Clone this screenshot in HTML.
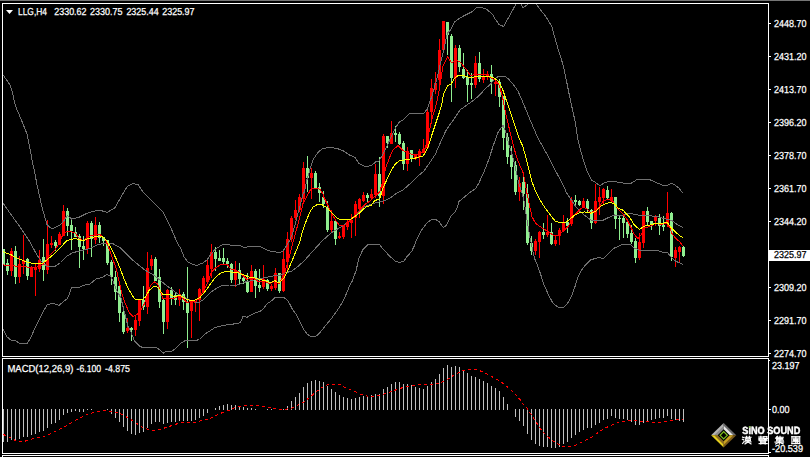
<!DOCTYPE html>
<html><head><meta charset="utf-8"><title>LLG,H4</title>
<style>html,body{margin:0;padding:0;background:#000;}body{width:810px;height:457px;overflow:hidden;font-family:"Liberation Sans",sans-serif;}svg{display:block;}text{font-family:"Liberation Sans",sans-serif;text-rendering:geometricPrecision;}</style>
</head><body>
<svg width="810" height="457" viewBox="0 0 810 457">
<rect x="0" y="0" width="810" height="457" fill="#000"/>
<defs><clipPath id="cm"><rect x="3" y="4" width="765" height="352"/></clipPath><clipPath id="cd"><rect x="3" y="359" width="765" height="94"/></clipPath></defs>
<g shape-rendering="crispEdges" fill="#fff">
<rect x="0" y="0" width="810" height="1" fill="#757575"/>
<rect x="2" y="3" width="767" height="1"/>
<rect x="2" y="3" width="1" height="354"/>
<rect x="768" y="3" width="1" height="354"/>
<rect x="2" y="356" width="767" height="1"/>
<rect x="2" y="358" width="767" height="1"/>
<rect x="2" y="358" width="1" height="96"/>
<rect x="768" y="358" width="1" height="96"/>
<rect x="2" y="453" width="767" height="1"/>
<rect x="2" y="455" width="767" height="1"/>
<rect x="2" y="455" width="1" height="2"/>
<rect x="768" y="455" width="1" height="2"/>
<rect x="769" y="23" width="2" height="1"/>
<rect x="769" y="56" width="2" height="1"/>
<rect x="769" y="89" width="2" height="1"/>
<rect x="769" y="122" width="2" height="1"/>
<rect x="769" y="155" width="2" height="1"/>
<rect x="769" y="188" width="2" height="1"/>
<rect x="769" y="221" width="2" height="1"/>
<rect x="769" y="254" width="2" height="1"/>
<rect x="769" y="287" width="2" height="1"/>
<rect x="769" y="320" width="2" height="1"/>
<rect x="769" y="353" width="2" height="1"/>
<rect x="769" y="360" width="1" height="1"/>
<rect x="769" y="409" width="2" height="1"/>
<rect x="769" y="452" width="2" height="1"/>
</g>
<g clip-path="url(#cm)" shape-rendering="crispEdges">
<rect x="3" y="249" width="1" height="16" fill="#90ee90"/>
<rect x="2" y="249" width="3" height="16" fill="#90ee90"/>
<rect x="7" y="259" width="1" height="16" fill="#90ee90"/>
<rect x="6" y="263" width="3" height="8" fill="#90ee90"/>
<rect x="11" y="248" width="1" height="28" fill="#ff0000"/>
<rect x="10" y="251" width="3" height="20" fill="#ff0000"/>
<rect x="15" y="246" width="1" height="38" fill="#90ee90"/>
<rect x="14" y="251" width="3" height="26" fill="#90ee90"/>
<rect x="19" y="256" width="1" height="27" fill="#ff0000"/>
<rect x="18" y="264" width="3" height="13" fill="#ff0000"/>
<rect x="23" y="235" width="1" height="39" fill="#ff0000"/>
<rect x="22" y="260" width="3" height="4" fill="#ff0000"/>
<rect x="27" y="258" width="1" height="22" fill="#90ee90"/>
<rect x="26" y="259" width="3" height="17" fill="#90ee90"/>
<rect x="31" y="266" width="1" height="11" fill="#ff0000"/>
<rect x="30" y="268" width="3" height="9" fill="#ff0000"/>
<rect x="35" y="263" width="1" height="33" fill="#ff0000"/>
<rect x="34" y="268" width="3" height="2" fill="#ff0000"/>
<rect x="39" y="250" width="1" height="22" fill="#ff0000"/>
<rect x="38" y="260" width="3" height="9" fill="#ff0000"/>
<rect x="43" y="239" width="1" height="42" fill="#90ee90"/>
<rect x="42" y="257" width="3" height="13" fill="#90ee90"/>
<rect x="47" y="220" width="1" height="54" fill="#ff0000"/>
<rect x="46" y="244" width="3" height="26" fill="#ff0000"/>
<rect x="51" y="236" width="1" height="12" fill="#ff0000"/>
<rect x="50" y="243" width="3" height="2" fill="#ff0000"/>
<rect x="55" y="240" width="1" height="11" fill="#90ee90"/>
<rect x="54" y="242" width="3" height="4" fill="#90ee90"/>
<rect x="59" y="232" width="1" height="13" fill="#ff0000"/>
<rect x="58" y="234" width="3" height="11" fill="#ff0000"/>
<rect x="63" y="205" width="1" height="31" fill="#ff0000"/>
<rect x="62" y="211" width="3" height="25" fill="#ff0000"/>
<rect x="67" y="208" width="1" height="28" fill="#90ee90"/>
<rect x="66" y="211" width="3" height="15" fill="#90ee90"/>
<rect x="71" y="220" width="1" height="30" fill="#90ee90"/>
<rect x="70" y="225" width="3" height="6" fill="#90ee90"/>
<rect x="75" y="227" width="1" height="10" fill="#90ee90"/>
<rect x="74" y="232" width="3" height="5" fill="#90ee90"/>
<rect x="79" y="234" width="1" height="34" fill="#90ee90"/>
<rect x="78" y="236" width="3" height="11" fill="#90ee90"/>
<rect x="83" y="236" width="1" height="24" fill="#90ee90"/>
<rect x="82" y="246" width="3" height="3" fill="#90ee90"/>
<rect x="87" y="221" width="1" height="33" fill="#ff0000"/>
<rect x="86" y="223" width="3" height="26" fill="#ff0000"/>
<rect x="91" y="221" width="1" height="36" fill="#90ee90"/>
<rect x="90" y="223" width="3" height="16" fill="#90ee90"/>
<rect x="95" y="217" width="1" height="27" fill="#ff0000"/>
<rect x="94" y="225" width="3" height="15" fill="#ff0000"/>
<rect x="99" y="222" width="1" height="21" fill="#90ee90"/>
<rect x="98" y="225" width="3" height="13" fill="#90ee90"/>
<rect x="103" y="237" width="1" height="9" fill="#90ee90"/>
<rect x="102" y="237" width="3" height="4" fill="#90ee90"/>
<rect x="107" y="240" width="1" height="25" fill="#90ee90"/>
<rect x="106" y="240" width="3" height="23" fill="#90ee90"/>
<rect x="111" y="260" width="1" height="25" fill="#90ee90"/>
<rect x="110" y="262" width="3" height="15" fill="#90ee90"/>
<rect x="115" y="271" width="1" height="29" fill="#90ee90"/>
<rect x="114" y="277" width="3" height="15" fill="#90ee90"/>
<rect x="119" y="285" width="1" height="37" fill="#90ee90"/>
<rect x="118" y="286" width="3" height="27" fill="#90ee90"/>
<rect x="123" y="311" width="1" height="23" fill="#90ee90"/>
<rect x="122" y="312" width="3" height="20" fill="#90ee90"/>
<rect x="127" y="318" width="1" height="15" fill="#ff0000"/>
<rect x="126" y="328" width="3" height="3" fill="#ff0000"/>
<rect x="131" y="327" width="1" height="14" fill="#90ee90"/>
<rect x="130" y="328" width="3" height="2" fill="#90ee90"/>
<rect x="135" y="316" width="1" height="20" fill="#ff0000"/>
<rect x="134" y="320" width="3" height="10" fill="#ff0000"/>
<rect x="139" y="300" width="1" height="26" fill="#ff0000"/>
<rect x="138" y="300" width="3" height="21" fill="#ff0000"/>
<rect x="143" y="286" width="1" height="24" fill="#90ee90"/>
<rect x="142" y="300" width="3" height="7" fill="#90ee90"/>
<rect x="147" y="252" width="1" height="62" fill="#ff0000"/>
<rect x="146" y="268" width="3" height="39" fill="#ff0000"/>
<rect x="151" y="255" width="1" height="15" fill="#ff0000"/>
<rect x="150" y="259" width="3" height="7" fill="#ff0000"/>
<rect x="155" y="257" width="1" height="24" fill="#90ee90"/>
<rect x="154" y="259" width="3" height="22" fill="#90ee90"/>
<rect x="159" y="269" width="1" height="39" fill="#90ee90"/>
<rect x="158" y="277" width="3" height="25" fill="#90ee90"/>
<rect x="163" y="298" width="1" height="36" fill="#90ee90"/>
<rect x="162" y="300" width="3" height="22" fill="#90ee90"/>
<rect x="167" y="289" width="1" height="40" fill="#ff0000"/>
<rect x="166" y="290" width="3" height="32" fill="#ff0000"/>
<rect x="171" y="287" width="1" height="18" fill="#90ee90"/>
<rect x="170" y="290" width="3" height="8" fill="#90ee90"/>
<rect x="175" y="292" width="1" height="13" fill="#90ee90"/>
<rect x="174" y="295" width="3" height="5" fill="#90ee90"/>
<rect x="179" y="289" width="1" height="17" fill="#ff0000"/>
<rect x="178" y="294" width="3" height="6" fill="#ff0000"/>
<rect x="183" y="292" width="1" height="18" fill="#90ee90"/>
<rect x="182" y="294" width="3" height="8" fill="#90ee90"/>
<rect x="187" y="267" width="1" height="81" fill="#90ee90"/>
<rect x="186" y="302" width="3" height="11" fill="#90ee90"/>
<rect x="191" y="300" width="1" height="38" fill="#ff0000"/>
<rect x="190" y="302" width="3" height="9" fill="#ff0000"/>
<rect x="195" y="301" width="1" height="11" fill="#ff0000"/>
<rect x="194" y="301" width="3" height="2" fill="#ff0000"/>
<rect x="199" y="288" width="1" height="33" fill="#ff0000"/>
<rect x="198" y="289" width="3" height="11" fill="#ff0000"/>
<rect x="203" y="276" width="1" height="17" fill="#ff0000"/>
<rect x="202" y="278" width="3" height="14" fill="#ff0000"/>
<rect x="207" y="260" width="1" height="24" fill="#ff0000"/>
<rect x="206" y="265" width="3" height="17" fill="#ff0000"/>
<rect x="211" y="244" width="1" height="34" fill="#ff0000"/>
<rect x="210" y="252" width="3" height="17" fill="#ff0000"/>
<rect x="215" y="247" width="1" height="24" fill="#90ee90"/>
<rect x="214" y="252" width="3" height="7" fill="#90ee90"/>
<rect x="219" y="250" width="1" height="11" fill="#90ee90"/>
<rect x="218" y="258" width="3" height="3" fill="#90ee90"/>
<rect x="223" y="248" width="1" height="16" fill="#90ee90"/>
<rect x="222" y="258" width="3" height="4" fill="#90ee90"/>
<rect x="227" y="258" width="1" height="10" fill="#90ee90"/>
<rect x="226" y="261" width="3" height="3" fill="#90ee90"/>
<rect x="231" y="263" width="1" height="20" fill="#90ee90"/>
<rect x="230" y="264" width="3" height="16" fill="#90ee90"/>
<rect x="235" y="261" width="1" height="26" fill="#ff0000"/>
<rect x="234" y="270" width="3" height="10" fill="#ff0000"/>
<rect x="239" y="263" width="1" height="21" fill="#90ee90"/>
<rect x="238" y="270" width="3" height="9" fill="#90ee90"/>
<rect x="243" y="275" width="1" height="9" fill="#90ee90"/>
<rect x="242" y="278" width="3" height="3" fill="#90ee90"/>
<rect x="247" y="273" width="1" height="20" fill="#90ee90"/>
<rect x="246" y="282" width="3" height="10" fill="#90ee90"/>
<rect x="251" y="265" width="1" height="27" fill="#ff0000"/>
<rect x="250" y="271" width="3" height="21" fill="#ff0000"/>
<rect x="255" y="269" width="1" height="29" fill="#90ee90"/>
<rect x="254" y="271" width="3" height="15" fill="#90ee90"/>
<rect x="259" y="269" width="1" height="23" fill="#90ee90"/>
<rect x="258" y="285" width="3" height="3" fill="#90ee90"/>
<rect x="263" y="265" width="1" height="24" fill="#ff0000"/>
<rect x="262" y="279" width="3" height="8" fill="#ff0000"/>
<rect x="267" y="279" width="1" height="12" fill="#90ee90"/>
<rect x="266" y="280" width="3" height="9" fill="#90ee90"/>
<rect x="271" y="284" width="1" height="7" fill="#ff0000"/>
<rect x="270" y="286" width="3" height="3" fill="#ff0000"/>
<rect x="275" y="268" width="1" height="22" fill="#ff0000"/>
<rect x="274" y="273" width="3" height="15" fill="#ff0000"/>
<rect x="279" y="273" width="1" height="20" fill="#90ee90"/>
<rect x="278" y="273" width="3" height="18" fill="#90ee90"/>
<rect x="283" y="251" width="1" height="41" fill="#ff0000"/>
<rect x="282" y="259" width="3" height="32" fill="#ff0000"/>
<rect x="287" y="232" width="1" height="38" fill="#ff0000"/>
<rect x="286" y="239" width="3" height="23" fill="#ff0000"/>
<rect x="291" y="216" width="1" height="26" fill="#ff0000"/>
<rect x="290" y="218" width="3" height="21" fill="#ff0000"/>
<rect x="295" y="200" width="1" height="20" fill="#ff0000"/>
<rect x="294" y="210" width="3" height="8" fill="#ff0000"/>
<rect x="299" y="194" width="1" height="18" fill="#ff0000"/>
<rect x="298" y="197" width="3" height="13" fill="#ff0000"/>
<rect x="303" y="162" width="1" height="40" fill="#ff0000"/>
<rect x="302" y="168" width="3" height="31" fill="#ff0000"/>
<rect x="307" y="156" width="1" height="36" fill="#90ee90"/>
<rect x="306" y="168" width="3" height="10" fill="#90ee90"/>
<rect x="311" y="168" width="1" height="31" fill="#ff0000"/>
<rect x="310" y="173" width="3" height="5" fill="#ff0000"/>
<rect x="315" y="171" width="1" height="18" fill="#90ee90"/>
<rect x="314" y="173" width="3" height="16" fill="#90ee90"/>
<rect x="319" y="183" width="1" height="19" fill="#90ee90"/>
<rect x="318" y="187" width="3" height="6" fill="#90ee90"/>
<rect x="323" y="191" width="1" height="17" fill="#90ee90"/>
<rect x="322" y="197" width="3" height="7" fill="#90ee90"/>
<rect x="327" y="201" width="1" height="31" fill="#90ee90"/>
<rect x="326" y="207" width="3" height="23" fill="#90ee90"/>
<rect x="331" y="210" width="1" height="23" fill="#ff0000"/>
<rect x="330" y="221" width="3" height="9" fill="#ff0000"/>
<rect x="335" y="221" width="1" height="24" fill="#90ee90"/>
<rect x="334" y="221" width="3" height="18" fill="#90ee90"/>
<rect x="339" y="232" width="1" height="7" fill="#ff0000"/>
<rect x="338" y="236" width="3" height="2" fill="#ff0000"/>
<rect x="343" y="225" width="1" height="14" fill="#ff0000"/>
<rect x="342" y="226" width="3" height="11" fill="#ff0000"/>
<rect x="347" y="220" width="1" height="10" fill="#ff0000"/>
<rect x="346" y="222" width="3" height="5" fill="#ff0000"/>
<rect x="351" y="214" width="1" height="24" fill="#ff0000"/>
<rect x="350" y="220" width="3" height="3" fill="#ff0000"/>
<rect x="355" y="201" width="1" height="35" fill="#ff0000"/>
<rect x="354" y="204" width="3" height="14" fill="#ff0000"/>
<rect x="359" y="198" width="1" height="20" fill="#ff0000"/>
<rect x="358" y="199" width="3" height="10" fill="#ff0000"/>
<rect x="363" y="192" width="1" height="10" fill="#ff0000"/>
<rect x="362" y="195" width="3" height="6" fill="#ff0000"/>
<rect x="367" y="193" width="1" height="9" fill="#90ee90"/>
<rect x="366" y="195" width="3" height="3" fill="#90ee90"/>
<rect x="371" y="189" width="1" height="10" fill="#ff0000"/>
<rect x="370" y="194" width="3" height="4" fill="#ff0000"/>
<rect x="375" y="164" width="1" height="34" fill="#ff0000"/>
<rect x="374" y="174" width="3" height="21" fill="#ff0000"/>
<rect x="379" y="157" width="1" height="50" fill="#90ee90"/>
<rect x="378" y="174" width="3" height="22" fill="#90ee90"/>
<rect x="383" y="134" width="1" height="70" fill="#ff0000"/>
<rect x="382" y="136" width="3" height="60" fill="#ff0000"/>
<rect x="387" y="136" width="1" height="12" fill="#90ee90"/>
<rect x="386" y="136" width="3" height="7" fill="#90ee90"/>
<rect x="391" y="121" width="1" height="23" fill="#ff0000"/>
<rect x="390" y="133" width="3" height="11" fill="#ff0000"/>
<rect x="395" y="126" width="1" height="16" fill="#90ee90"/>
<rect x="394" y="133" width="3" height="2" fill="#90ee90"/>
<rect x="399" y="132" width="1" height="13" fill="#90ee90"/>
<rect x="398" y="134" width="3" height="10" fill="#90ee90"/>
<rect x="403" y="141" width="1" height="29" fill="#90ee90"/>
<rect x="402" y="143" width="3" height="21" fill="#90ee90"/>
<rect x="407" y="147" width="1" height="24" fill="#ff0000"/>
<rect x="406" y="151" width="3" height="13" fill="#ff0000"/>
<rect x="411" y="150" width="1" height="12" fill="#90ee90"/>
<rect x="410" y="150" width="3" height="9" fill="#90ee90"/>
<rect x="415" y="154" width="1" height="6" fill="#ff0000"/>
<rect x="414" y="155" width="3" height="4" fill="#ff0000"/>
<rect x="419" y="149" width="1" height="17" fill="#ff0000"/>
<rect x="418" y="151" width="3" height="6" fill="#ff0000"/>
<rect x="423" y="139" width="1" height="14" fill="#ff0000"/>
<rect x="422" y="149" width="3" height="4" fill="#ff0000"/>
<rect x="427" y="109" width="1" height="39" fill="#ff0000"/>
<rect x="426" y="112" width="3" height="36" fill="#ff0000"/>
<rect x="431" y="79" width="1" height="41" fill="#ff0000"/>
<rect x="430" y="88" width="3" height="24" fill="#ff0000"/>
<rect x="435" y="72" width="1" height="22" fill="#ff0000"/>
<rect x="434" y="83" width="3" height="7" fill="#ff0000"/>
<rect x="439" y="39" width="1" height="48" fill="#ff0000"/>
<rect x="438" y="50" width="3" height="30" fill="#ff0000"/>
<rect x="443" y="21" width="1" height="29" fill="#ff0000"/>
<rect x="442" y="21" width="3" height="29" fill="#ff0000"/>
<rect x="447" y="22" width="1" height="33" fill="#90ee90"/>
<rect x="446" y="22" width="3" height="13" fill="#90ee90"/>
<rect x="451" y="34" width="1" height="68" fill="#90ee90"/>
<rect x="450" y="36" width="3" height="42" fill="#90ee90"/>
<rect x="455" y="45" width="1" height="43" fill="#ff0000"/>
<rect x="454" y="48" width="3" height="30" fill="#ff0000"/>
<rect x="459" y="45" width="1" height="27" fill="#90ee90"/>
<rect x="458" y="48" width="3" height="19" fill="#90ee90"/>
<rect x="463" y="53" width="1" height="26" fill="#90ee90"/>
<rect x="462" y="69" width="3" height="9" fill="#90ee90"/>
<rect x="467" y="70" width="1" height="32" fill="#90ee90"/>
<rect x="466" y="77" width="3" height="8" fill="#90ee90"/>
<rect x="471" y="73" width="1" height="26" fill="#90ee90"/>
<rect x="470" y="83" width="3" height="2" fill="#90ee90"/>
<rect x="475" y="56" width="1" height="32" fill="#ff0000"/>
<rect x="474" y="63" width="3" height="22" fill="#ff0000"/>
<rect x="479" y="52" width="1" height="30" fill="#90ee90"/>
<rect x="478" y="63" width="3" height="16" fill="#90ee90"/>
<rect x="483" y="69" width="1" height="14" fill="#ff0000"/>
<rect x="482" y="77" width="3" height="3" fill="#ff0000"/>
<rect x="487" y="71" width="1" height="9" fill="#ff0000"/>
<rect x="486" y="74" width="3" height="3" fill="#ff0000"/>
<rect x="491" y="65" width="1" height="29" fill="#90ee90"/>
<rect x="490" y="74" width="3" height="8" fill="#90ee90"/>
<rect x="495" y="79" width="1" height="17" fill="#ff0000"/>
<rect x="494" y="82" width="3" height="2" fill="#ff0000"/>
<rect x="499" y="79" width="1" height="28" fill="#90ee90"/>
<rect x="498" y="82" width="3" height="15" fill="#90ee90"/>
<rect x="503" y="96" width="1" height="54" fill="#90ee90"/>
<rect x="502" y="96" width="3" height="42" fill="#90ee90"/>
<rect x="507" y="133" width="1" height="31" fill="#90ee90"/>
<rect x="506" y="137" width="3" height="20" fill="#90ee90"/>
<rect x="511" y="146" width="1" height="33" fill="#90ee90"/>
<rect x="510" y="155" width="3" height="12" fill="#90ee90"/>
<rect x="515" y="161" width="1" height="34" fill="#90ee90"/>
<rect x="514" y="165" width="3" height="27" fill="#90ee90"/>
<rect x="519" y="177" width="1" height="24" fill="#ff0000"/>
<rect x="518" y="183" width="3" height="9" fill="#ff0000"/>
<rect x="523" y="177" width="1" height="33" fill="#90ee90"/>
<rect x="522" y="182" width="3" height="12" fill="#90ee90"/>
<rect x="527" y="184" width="1" height="61" fill="#90ee90"/>
<rect x="526" y="194" width="3" height="49" fill="#90ee90"/>
<rect x="531" y="236" width="1" height="19" fill="#90ee90"/>
<rect x="530" y="243" width="3" height="8" fill="#90ee90"/>
<rect x="535" y="239" width="1" height="16" fill="#ff0000"/>
<rect x="534" y="241" width="3" height="10" fill="#ff0000"/>
<rect x="539" y="231" width="1" height="27" fill="#ff0000"/>
<rect x="538" y="232" width="3" height="10" fill="#ff0000"/>
<rect x="543" y="223" width="1" height="16" fill="#90ee90"/>
<rect x="542" y="232" width="3" height="3" fill="#90ee90"/>
<rect x="547" y="215" width="1" height="22" fill="#ff0000"/>
<rect x="546" y="232" width="3" height="3" fill="#ff0000"/>
<rect x="551" y="223" width="1" height="22" fill="#90ee90"/>
<rect x="550" y="232" width="3" height="12" fill="#90ee90"/>
<rect x="555" y="235" width="1" height="11" fill="#ff0000"/>
<rect x="554" y="240" width="3" height="4" fill="#ff0000"/>
<rect x="559" y="228" width="1" height="17" fill="#ff0000"/>
<rect x="558" y="230" width="3" height="6" fill="#ff0000"/>
<rect x="563" y="215" width="1" height="17" fill="#ff0000"/>
<rect x="562" y="223" width="3" height="8" fill="#ff0000"/>
<rect x="567" y="218" width="1" height="15" fill="#90ee90"/>
<rect x="566" y="222" width="3" height="4" fill="#90ee90"/>
<rect x="571" y="197" width="1" height="29" fill="#ff0000"/>
<rect x="570" y="200" width="3" height="24" fill="#ff0000"/>
<rect x="575" y="195" width="1" height="11" fill="#90ee90"/>
<rect x="574" y="200" width="3" height="2" fill="#90ee90"/>
<rect x="579" y="200" width="1" height="6" fill="#90ee90"/>
<rect x="578" y="201" width="3" height="4" fill="#90ee90"/>
<rect x="583" y="198" width="1" height="10" fill="#ff0000"/>
<rect x="582" y="201" width="3" height="6" fill="#ff0000"/>
<rect x="587" y="199" width="1" height="13" fill="#90ee90"/>
<rect x="586" y="201" width="3" height="8" fill="#90ee90"/>
<rect x="591" y="209" width="1" height="20" fill="#90ee90"/>
<rect x="590" y="210" width="3" height="13" fill="#90ee90"/>
<rect x="595" y="184" width="1" height="40" fill="#ff0000"/>
<rect x="594" y="201" width="3" height="22" fill="#ff0000"/>
<rect x="599" y="187" width="1" height="28" fill="#ff0000"/>
<rect x="598" y="197" width="3" height="5" fill="#ff0000"/>
<rect x="603" y="188" width="1" height="16" fill="#ff0000"/>
<rect x="602" y="189" width="3" height="9" fill="#ff0000"/>
<rect x="607" y="186" width="1" height="13" fill="#90ee90"/>
<rect x="606" y="190" width="3" height="8" fill="#90ee90"/>
<rect x="611" y="189" width="1" height="13" fill="#ff0000"/>
<rect x="610" y="197" width="3" height="4" fill="#ff0000"/>
<rect x="615" y="197" width="1" height="32" fill="#90ee90"/>
<rect x="614" y="197" width="3" height="22" fill="#90ee90"/>
<rect x="619" y="215" width="1" height="25" fill="#90ee90"/>
<rect x="618" y="218" width="3" height="1" fill="#90ee90"/>
<rect x="623" y="216" width="1" height="22" fill="#90ee90"/>
<rect x="622" y="218" width="3" height="5" fill="#90ee90"/>
<rect x="627" y="221" width="1" height="17" fill="#90ee90"/>
<rect x="626" y="222" width="3" height="12" fill="#90ee90"/>
<rect x="631" y="225" width="1" height="19" fill="#90ee90"/>
<rect x="630" y="233" width="3" height="9" fill="#90ee90"/>
<rect x="635" y="238" width="1" height="25" fill="#90ee90"/>
<rect x="634" y="241" width="3" height="17" fill="#90ee90"/>
<rect x="639" y="233" width="1" height="27" fill="#ff0000"/>
<rect x="638" y="242" width="3" height="16" fill="#ff0000"/>
<rect x="643" y="211" width="1" height="37" fill="#ff0000"/>
<rect x="642" y="211" width="3" height="32" fill="#ff0000"/>
<rect x="647" y="207" width="1" height="19" fill="#90ee90"/>
<rect x="646" y="211" width="3" height="11" fill="#90ee90"/>
<rect x="651" y="221" width="1" height="9" fill="#90ee90"/>
<rect x="650" y="221" width="3" height="4" fill="#90ee90"/>
<rect x="655" y="215" width="1" height="11" fill="#ff0000"/>
<rect x="654" y="216" width="3" height="5" fill="#ff0000"/>
<rect x="659" y="214" width="1" height="21" fill="#90ee90"/>
<rect x="658" y="218" width="3" height="8" fill="#90ee90"/>
<rect x="663" y="216" width="1" height="15" fill="#90ee90"/>
<rect x="662" y="225" width="3" height="2" fill="#90ee90"/>
<rect x="667" y="192" width="1" height="35" fill="#ff0000"/>
<rect x="666" y="213" width="3" height="11" fill="#ff0000"/>
<rect x="671" y="212" width="1" height="49" fill="#90ee90"/>
<rect x="670" y="213" width="3" height="44" fill="#90ee90"/>
<rect x="675" y="247" width="1" height="20" fill="#ff0000"/>
<rect x="674" y="250" width="3" height="8" fill="#ff0000"/>
<rect x="679" y="246" width="1" height="16" fill="#ff0000"/>
<rect x="678" y="247" width="3" height="5" fill="#ff0000"/>
<rect x="683" y="246" width="1" height="11" fill="#90ee90"/>
<rect x="682" y="247" width="3" height="9" fill="#90ee90"/>
<polyline points="3.0,74.8 9.9,84.7 12.3,92.0 15.3,105.7 21.0,119.0 27.0,134.0 30.9,153.8 32.0,160.0 34.6,172.0 37.0,184.7 42.0,207.0 47.0,224.7 51.9,229.0 59.3,225.4 63.0,222.0 67.3,215.4 71.6,219.0 79.0,217.3 86.4,213.6 93.8,211.1 101.0,210.6 107.4,212.3 114.8,208.0 121.0,197.0 127.0,186.7 133.3,183.5 138.3,184.7 143.0,192.0 153.0,202.0 163.0,211.9 170.4,226.7 177.8,244.0 180.6,248.0 184.0,256.7 188.0,262.0 193.0,264.7 197.0,265.3 203.0,263.0 207.0,260.0 211.0,254.0 215.0,249.5 219.0,246.8 223.0,244.5 227.0,244.3 232.0,245.5 240.0,245.5 244.0,247.4 249.0,246.8 258.0,246.2 262.0,247.4 268.0,250.5 272.0,251.7 280.0,252.3 283.0,251.0 287.0,245.0 290.0,240.0 293.0,232.0 296.0,221.0 300.0,206.0 303.0,194.0 304.5,192.0 307.0,179.5 310.7,167.0 313.0,159.8 318.0,152.3 323.0,148.4 330.5,147.4 336.7,148.4 342.8,150.5 349.0,154.8 355.0,157.3 359.0,163.5 363.8,166.0 368.0,166.3 372.0,165.0 376.0,161.7 379.0,161.0 382.0,156.0 384.0,152.0 386.5,147.0 391.0,137.0 395.8,127.0 399.5,122.0 403.0,119.8 409.4,113.6 424.0,113.3 427.3,109.0 428.4,106.0 432.0,95.7 437.0,78.4 440.7,62.3 443.8,50.0 446.3,37.3 448.0,32.4 451.0,29.3 454.3,22.0 458.0,19.4 464.0,15.7 471.6,12.0 476.5,7.7 480.0,7.0 486.4,9.0 492.6,14.5 495.0,18.8 499.0,24.4 503.6,26.5 508.5,17.6 516.0,4.0 518.5,0.0 521.0,4.0 523.0,7.5 527.7,4.6 530.0,0.0 534.0,0.0 536.3,4.0 539.4,8.3 545.6,16.3 551.7,26.2 555.4,39.8 559.0,52.0 561.6,60.0 564.0,68.6 567.0,83.5 570.0,98.3 575.0,121.0 578.0,140.0 581.0,152.0 584.0,162.0 587.4,172.0 591.5,180.0 595.6,182.6 600.0,185.6 605.0,182.6 611.0,181.0 618.5,182.3 624.4,183.3 631.0,183.3 637.0,179.6 643.7,179.3 649.6,179.6 655.6,182.3 663.0,185.3 667.4,185.3 671.0,183.3 674.8,184.8 679.3,188.5 682.7,193.0" fill="none" stroke="#707070" stroke-width="1" />
<polyline points="3.0,203.0 9.9,213.0 19.8,226.7 29.6,241.5 37.0,255.0 43.0,263.5 48.0,266.5 55.6,266.0 60.5,262.5 66.7,256.3 72.8,252.6 80.0,251.0 88.9,248.9 97.4,244.8 104.8,243.2 113.5,244.0 120.9,248.3 127.0,254.5 132.0,259.5 139.4,265.6 145.6,270.6 151.7,273.7 156.7,277.4 164.0,283.5 170.0,288.0 176.4,293.0 181.4,296.0 186.3,298.0 190.0,300.0 195.0,302.0 200.0,302.0 204.7,298.5 211.0,292.0 217.0,288.0 223.0,285.0 229.4,285.0 236.0,285.5 241.7,283.5 246.7,281.5 250.0,281.0 256.0,279.5 262.0,278.3 268.0,277.0 274.0,275.8 280.0,275.2 286.0,272.7 292.0,271.0 298.0,266.5 305.0,260.0 312.0,252.0 318.0,245.5 323.0,240.0 331.7,232.6 339.0,228.0 345.0,224.5 351.5,219.6 357.6,212.8 363.8,207.0 367.4,205.5 374.8,203.0 384.7,200.5 391.0,197.4 397.0,193.0 403.0,190.0 410.6,183.3 418.0,176.0 424.0,171.0 430.4,161.7 435.3,154.3 439.0,145.7 446.4,129.6 452.6,121.0 460.0,110.0 465.4,106.0 471.6,101.8 479.0,95.7 486.4,87.6 490.0,84.7 495.0,78.5 499.0,76.0 504.8,76.0 508.5,79.0 513.5,84.7 517.8,90.9 522.0,100.3 525.8,109.4 529.5,118.5 538.0,138.3 542.5,146.0 549.0,158.0 556.7,173.0 564.0,186.7 566.0,192.0 570.0,198.0 575.0,205.6 580.0,211.6 586.0,216.4 591.0,220.0 602.0,220.7 608.4,217.6 614.6,215.0 620.7,215.8 629.4,213.3 638.0,215.0 646.7,215.0 654.0,216.4 658.5,216.9 664.7,218.7 672.0,220.6 677.0,224.3 682.8,227.3" fill="none" stroke="#707070" stroke-width="1" />
<polyline points="3.0,329.5 7.0,337.0 11.0,340.0 15.0,340.5 19.0,343.0 23.0,343.5 27.0,344.0 31.0,337.0 35.0,328.0 39.0,320.0 43.0,312.0 47.0,305.0 51.0,303.5 55.0,304.0 59.0,305.5 63.0,302.0 67.0,299.0 69.5,294.0 71.5,287.5 80.0,287.0 86.0,284.5 90.0,284.0 96.0,279.0 102.0,277.4 107.3,274.5 110.4,276.0 112.8,280.4 114.7,285.4 116.5,290.0 120.9,298.0 124.6,312.9 128.0,326.4 131.4,333.0 134.4,340.8 139.4,346.0 143.7,348.0 156.7,347.5 163.5,353.0 166.0,351.5 171.7,351.5 176.0,348.0 181.0,343.0 185.0,340.8 190.0,340.4 196.0,340.4 199.5,339.5 205.0,334.0 210.0,330.8 215.0,327.5 220.0,326.5 223.0,325.4 230.0,324.4 238.0,323.5 240.5,322.5 243.0,316.4 247.0,317.3 251.0,315.0 255.0,313.0 260.0,311.5 263.7,308.4 267.4,303.5 272.3,300.4 275.4,297.3 283.5,297.3 287.8,300.4 292.0,308.4 297.0,315.8 300.7,323.0 304.4,330.6 307.5,334.3 310.6,336.3 313.0,337.0 316.0,336.3 320.5,331.9 325.4,325.7 331.6,318.3 337.8,309.6 342.7,302.0 346.4,293.6 350.0,285.0 352.3,281.0 356.0,270.7 359.0,258.3 362.8,249.7 367.8,244.8 379.5,244.4 382.0,247.8 389.4,255.9 395.6,261.4 399.9,262.4 403.6,261.4 406.7,257.0 411.6,251.5 414.3,246.0 416.5,239.8 421.6,230.0 426.7,223.3 430.4,220.2 434.7,219.0 439.0,221.5 443.3,227.7 446.4,225.2 450.7,216.5 455.0,212.0 457.5,206.7 459.0,201.4 462.0,199.0 469.5,192.7 475.7,188.4 479.4,182.0 484.3,171.0 488.6,160.0 493.3,145.5 498.0,132.5 503.0,125.3 505.4,131.0 508.5,143.0 511.6,153.0 514.7,164.5 518.4,181.8 522.7,195.0 524.6,204.3 527.0,220.4 529.5,235.2 532.0,247.0 534.4,258.0 537.3,265.0 540.4,273.6 544.0,284.8 548.4,294.6 552.7,302.7 555.8,305.7 559.5,307.6 563.2,307.6 567.5,303.3 571.2,297.0 575.0,286.6 578.0,276.7 581.0,271.0 585.0,265.4 591.0,259.7 598.5,257.6 603.5,258.4 608.4,253.5 613.3,248.5 622.0,244.6 630.6,244.6 634.3,248.0 640.5,250.5 657.3,250.6 662.0,252.0 667.8,252.7 670.9,257.0 675.8,261.3 682.8,264.4" fill="none" stroke="#707070" stroke-width="1" />
<polyline points="3.0,264.7 7.0,266.0 11.0,264.7 15.0,266.0 23.0,266.0 27.0,267.0 35.0,268.0 43.0,264.7 47.0,258.5 51.0,254.0 55.0,250.0 59.0,243.0 63.0,234.5 67.0,231.5 71.0,231.5 75.0,233.0 79.0,238.0 83.0,241.0 87.0,237.0 91.0,235.8 95.0,234.6 99.0,234.0 102.0,236.0 105.4,239.7 108.5,247.0 112.0,257.0 116.0,268.0 119.0,281.0 122.0,294.3 125.8,304.8 129.5,312.9 133.0,316.6 137.0,314.7 140.6,310.4 144.3,304.0 148.0,292.0 150.5,285.4 154.0,281.8 157.3,283.5 159.8,289.0 161.0,293.0 162.8,298.0 169.0,298.0 175.0,298.0 178.9,295.6 183.7,299.0 187.4,302.8 192.0,301.0 196.0,301.0 199.8,297.0 202.8,292.0 206.5,285.0 209.0,280.0 211.0,272.7 215.8,267.8 220.7,264.7 227.0,264.0 230.6,269.0 235.5,270.0 241.7,274.0 247.0,279.5 251.6,277.0 259.0,282.0 264.0,280.7 269.0,283.8 275.0,280.7 279.0,283.8 284.0,275.0 288.0,262.0 292.0,246.0 296.5,229.5 301.0,212.0 303.0,203.6 307.0,196.0 310.7,189.4 315.7,188.0 320.0,189.4 323.0,194.0 324.0,197.4 328.0,205.4 331.7,213.5 335.4,220.0 339.0,225.0 344.0,225.8 349.0,221.5 354.0,216.5 359.0,211.0 362.6,206.7 366.0,203.6 370.0,201.0 372.0,198.8 379.8,192.0 382.8,181.0 386.0,167.0 389.6,157.4 393.0,149.8 398.0,145.7 402.6,150.3 409.4,153.4 414.0,155.0 420.5,153.5 425.4,148.0 429.0,132.0 432.8,116.0 436.4,104.0 439.5,88.3 443.0,66.0 447.5,56.8 451.8,63.0 455.5,59.3 460.5,62.3 465.4,68.5 471.0,76.0 475.3,73.5 480.0,74.7 486.4,74.7 490.0,77.3 495.5,80.4 499.0,84.7 502.3,95.8 506.0,114.8 509.8,130.9 513.5,145.8 516.5,157.0 520.0,165.8 523.0,172.5 525.0,181.8 527.0,193.5 529.5,205.6 532.0,216.7 535.7,223.5 541.9,227.8 548.0,231.5 553.0,235.2 557.9,235.2 562.8,231.5 569.0,225.3 574.0,215.5 578.9,210.5 582.6,207.4 586.0,208.4 591.0,212.7 597.3,209.0 603.5,201.0 608.4,199.0 612.0,199.8 617.0,207.8 622.0,212.7 627.0,219.5 631.9,229.4 634.3,234.3 638.0,238.7 641.7,234.3 643.7,228.6 651.0,226.0 654.8,223.6 662.0,224.3 666.5,223.0 669.6,227.3 672.0,233.5 675.8,238.5 679.5,241.5 682.8,245.9" fill="none" stroke="#ff0000" stroke-width="1" />
<polyline points="3.0,251.7 11.0,254.8 19.0,259.0 27.0,262.0 35.0,264.0 43.0,263.0 51.0,256.7 59.0,249.0 67.0,240.5 75.0,238.5 83.0,240.7 91.0,237.6 96.0,236.6 102.0,236.6 106.0,239.7 109.8,245.9 113.5,253.3 117.0,260.7 120.9,270.6 124.6,280.4 128.0,288.0 132.0,295.0 135.0,299.3 141.9,300.0 145.6,296.8 149.0,290.6 153.0,287.0 156.0,286.3 159.0,288.8 162.8,294.3 169.0,294.3 175.0,296.8 178.9,295.0 183.7,297.2 187.4,299.8 192.3,300.4 196.0,299.8 200.4,297.0 204.7,292.0 209.0,286.0 213.0,280.6 215.8,277.0 220.7,273.0 225.7,271.5 230.6,272.0 238.0,272.7 244.0,275.0 249.0,277.0 255.0,278.0 260.0,279.5 266.4,281.0 271.0,282.6 275.0,280.7 279.0,283.0 284.0,278.3 288.0,270.0 292.0,261.0 296.0,251.0 299.5,243.0 302.0,233.0 305.8,222.0 309.5,212.8 313.0,207.0 317.0,204.8 321.8,204.6 325.5,206.7 329.0,209.8 333.0,214.0 336.7,217.8 340.4,219.6 345.0,220.0 350.0,219.6 355.0,216.5 359.0,213.5 362.6,209.8 366.0,207.0 371.0,205.4 374.8,200.6 379.8,198.8 382.8,188.3 386.0,181.5 389.6,173.5 394.6,164.8 399.5,160.5 407.0,159.6 415.5,158.0 423.0,156.0 425.4,152.5 428.0,147.0 431.6,135.8 435.3,124.7 439.0,113.6 441.4,106.0 443.8,93.2 447.5,85.8 451.2,84.0 454.3,78.4 458.0,75.7 464.0,75.7 471.0,77.8 476.5,76.5 486.4,76.0 491.4,77.0 495.0,78.5 499.0,81.6 502.3,88.4 506.0,99.5 509.8,110.0 514.7,124.7 519.6,139.5 522.7,146.0 525.8,157.0 528.9,169.5 532.0,181.8 535.7,191.7 539.4,198.8 544.3,206.8 549.3,213.6 555.4,221.4 559.0,222.2 566.5,222.0 570.0,219.0 575.0,214.8 580.0,212.4 585.0,211.9 591.0,213.3 596.0,210.9 602.0,205.3 609.6,202.2 614.6,204.0 618.3,208.4 623.0,210.2 629.4,217.0 634.3,225.0 639.6,229.5 644.0,226.3 651.0,224.7 656.5,223.2 662.0,223.5 667.0,222.2 671.0,227.6 675.8,232.5 679.5,235.4 682.8,237.8" fill="none" stroke="#ffff00" stroke-width="1" />
</g>
<g clip-path="url(#cd)" shape-rendering="crispEdges">
<rect x="3" y="409" width="1" height="33" fill="#c0c0c0"/>
<rect x="7" y="409" width="1" height="33" fill="#c0c0c0"/>
<rect x="11" y="409" width="1" height="31" fill="#c0c0c0"/>
<rect x="15" y="409" width="1" height="31" fill="#c0c0c0"/>
<rect x="19" y="409" width="1" height="30" fill="#c0c0c0"/>
<rect x="23" y="409" width="1" height="28" fill="#c0c0c0"/>
<rect x="27" y="409" width="1" height="28" fill="#c0c0c0"/>
<rect x="31" y="409" width="1" height="26" fill="#c0c0c0"/>
<rect x="35" y="409" width="1" height="25" fill="#c0c0c0"/>
<rect x="39" y="409" width="1" height="23" fill="#c0c0c0"/>
<rect x="43" y="409" width="1" height="22" fill="#c0c0c0"/>
<rect x="47" y="409" width="1" height="19" fill="#c0c0c0"/>
<rect x="51" y="409" width="1" height="15" fill="#c0c0c0"/>
<rect x="55" y="409" width="1" height="14" fill="#c0c0c0"/>
<rect x="59" y="409" width="1" height="11" fill="#c0c0c0"/>
<rect x="63" y="409" width="1" height="6" fill="#c0c0c0"/>
<rect x="67" y="409" width="1" height="4" fill="#c0c0c0"/>
<rect x="71" y="409" width="1" height="3" fill="#c0c0c0"/>
<rect x="75" y="409" width="1" height="2" fill="#c0c0c0"/>
<rect x="79" y="409" width="1" height="3" fill="#c0c0c0"/>
<rect x="83" y="409" width="1" height="3" fill="#c0c0c0"/>
<rect x="87" y="409" width="1" height="1" fill="#c0c0c0"/>
<rect x="91" y="409" width="1" height="1" fill="#c0c0c0"/>
<rect x="107" y="409" width="1" height="1" fill="#c0c0c0"/>
<rect x="111" y="409" width="1" height="5" fill="#c0c0c0"/>
<rect x="115" y="409" width="1" height="9" fill="#c0c0c0"/>
<rect x="119" y="409" width="1" height="13" fill="#c0c0c0"/>
<rect x="123" y="409" width="1" height="18" fill="#c0c0c0"/>
<rect x="127" y="409" width="1" height="22" fill="#c0c0c0"/>
<rect x="131" y="409" width="1" height="25" fill="#c0c0c0"/>
<rect x="135" y="409" width="1" height="26" fill="#c0c0c0"/>
<rect x="139" y="409" width="1" height="24" fill="#c0c0c0"/>
<rect x="143" y="409" width="1" height="23" fill="#c0c0c0"/>
<rect x="147" y="409" width="1" height="19" fill="#c0c0c0"/>
<rect x="151" y="409" width="1" height="15" fill="#c0c0c0"/>
<rect x="155" y="409" width="1" height="13" fill="#c0c0c0"/>
<rect x="159" y="409" width="1" height="13" fill="#c0c0c0"/>
<rect x="163" y="409" width="1" height="15" fill="#c0c0c0"/>
<rect x="167" y="409" width="1" height="14" fill="#c0c0c0"/>
<rect x="171" y="409" width="1" height="13" fill="#c0c0c0"/>
<rect x="175" y="409" width="1" height="13" fill="#c0c0c0"/>
<rect x="179" y="409" width="1" height="12" fill="#c0c0c0"/>
<rect x="183" y="409" width="1" height="12" fill="#c0c0c0"/>
<rect x="187" y="409" width="1" height="12" fill="#c0c0c0"/>
<rect x="191" y="409" width="1" height="12" fill="#c0c0c0"/>
<rect x="195" y="409" width="1" height="11" fill="#c0c0c0"/>
<rect x="199" y="409" width="1" height="9" fill="#c0c0c0"/>
<rect x="203" y="409" width="1" height="7" fill="#c0c0c0"/>
<rect x="207" y="409" width="1" height="4" fill="#c0c0c0"/>
<rect x="215" y="408" width="1" height="2" fill="#c0c0c0"/>
<rect x="219" y="406" width="1" height="4" fill="#c0c0c0"/>
<rect x="223" y="405" width="1" height="5" fill="#c0c0c0"/>
<rect x="227" y="404" width="1" height="6" fill="#c0c0c0"/>
<rect x="231" y="405" width="1" height="5" fill="#c0c0c0"/>
<rect x="235" y="405" width="1" height="5" fill="#c0c0c0"/>
<rect x="239" y="407" width="1" height="3" fill="#c0c0c0"/>
<rect x="243" y="407" width="1" height="3" fill="#c0c0c0"/>
<rect x="247" y="408" width="1" height="2" fill="#c0c0c0"/>
<rect x="251" y="408" width="1" height="2" fill="#c0c0c0"/>
<rect x="255" y="409" width="1" height="1" fill="#c0c0c0"/>
<rect x="267" y="409" width="1" height="1" fill="#c0c0c0"/>
<rect x="271" y="409" width="1" height="1" fill="#c0c0c0"/>
<rect x="283" y="409" width="1" height="1" fill="#c0c0c0"/>
<rect x="287" y="406" width="1" height="4" fill="#c0c0c0"/>
<rect x="291" y="401" width="1" height="9" fill="#c0c0c0"/>
<rect x="295" y="397" width="1" height="13" fill="#c0c0c0"/>
<rect x="299" y="393" width="1" height="17" fill="#c0c0c0"/>
<rect x="303" y="387" width="1" height="23" fill="#c0c0c0"/>
<rect x="307" y="383" width="1" height="27" fill="#c0c0c0"/>
<rect x="311" y="381" width="1" height="29" fill="#c0c0c0"/>
<rect x="315" y="380" width="1" height="30" fill="#c0c0c0"/>
<rect x="319" y="381" width="1" height="29" fill="#c0c0c0"/>
<rect x="323" y="382" width="1" height="28" fill="#c0c0c0"/>
<rect x="327" y="386" width="1" height="24" fill="#c0c0c0"/>
<rect x="331" y="389" width="1" height="21" fill="#c0c0c0"/>
<rect x="335" y="392" width="1" height="18" fill="#c0c0c0"/>
<rect x="339" y="395" width="1" height="15" fill="#c0c0c0"/>
<rect x="343" y="397" width="1" height="13" fill="#c0c0c0"/>
<rect x="347" y="398" width="1" height="12" fill="#c0c0c0"/>
<rect x="351" y="399" width="1" height="11" fill="#c0c0c0"/>
<rect x="355" y="398" width="1" height="12" fill="#c0c0c0"/>
<rect x="359" y="397" width="1" height="13" fill="#c0c0c0"/>
<rect x="363" y="396" width="1" height="14" fill="#c0c0c0"/>
<rect x="367" y="396" width="1" height="14" fill="#c0c0c0"/>
<rect x="371" y="395" width="1" height="15" fill="#c0c0c0"/>
<rect x="375" y="394" width="1" height="16" fill="#c0c0c0"/>
<rect x="379" y="394" width="1" height="16" fill="#c0c0c0"/>
<rect x="383" y="389" width="1" height="21" fill="#c0c0c0"/>
<rect x="387" y="387" width="1" height="23" fill="#c0c0c0"/>
<rect x="391" y="384" width="1" height="26" fill="#c0c0c0"/>
<rect x="395" y="382" width="1" height="28" fill="#c0c0c0"/>
<rect x="399" y="382" width="1" height="28" fill="#c0c0c0"/>
<rect x="403" y="384" width="1" height="26" fill="#c0c0c0"/>
<rect x="407" y="384" width="1" height="26" fill="#c0c0c0"/>
<rect x="411" y="385" width="1" height="25" fill="#c0c0c0"/>
<rect x="415" y="387" width="1" height="23" fill="#c0c0c0"/>
<rect x="419" y="388" width="1" height="22" fill="#c0c0c0"/>
<rect x="423" y="389" width="1" height="21" fill="#c0c0c0"/>
<rect x="427" y="386" width="1" height="24" fill="#c0c0c0"/>
<rect x="431" y="382" width="1" height="28" fill="#c0c0c0"/>
<rect x="435" y="379" width="1" height="31" fill="#c0c0c0"/>
<rect x="439" y="374" width="1" height="36" fill="#c0c0c0"/>
<rect x="443" y="368" width="1" height="42" fill="#c0c0c0"/>
<rect x="447" y="365" width="1" height="45" fill="#c0c0c0"/>
<rect x="451" y="367" width="1" height="43" fill="#c0c0c0"/>
<rect x="455" y="366" width="1" height="44" fill="#c0c0c0"/>
<rect x="459" y="367" width="1" height="43" fill="#c0c0c0"/>
<rect x="463" y="370" width="1" height="40" fill="#c0c0c0"/>
<rect x="467" y="373" width="1" height="37" fill="#c0c0c0"/>
<rect x="471" y="376" width="1" height="34" fill="#c0c0c0"/>
<rect x="475" y="377" width="1" height="33" fill="#c0c0c0"/>
<rect x="479" y="379" width="1" height="31" fill="#c0c0c0"/>
<rect x="483" y="381" width="1" height="29" fill="#c0c0c0"/>
<rect x="487" y="383" width="1" height="27" fill="#c0c0c0"/>
<rect x="491" y="386" width="1" height="24" fill="#c0c0c0"/>
<rect x="495" y="388" width="1" height="22" fill="#c0c0c0"/>
<rect x="499" y="391" width="1" height="19" fill="#c0c0c0"/>
<rect x="503" y="397" width="1" height="13" fill="#c0c0c0"/>
<rect x="507" y="404" width="1" height="6" fill="#c0c0c0"/>
<rect x="515" y="409" width="1" height="8" fill="#c0c0c0"/>
<rect x="519" y="409" width="1" height="12" fill="#c0c0c0"/>
<rect x="523" y="409" width="1" height="17" fill="#c0c0c0"/>
<rect x="527" y="409" width="1" height="25" fill="#c0c0c0"/>
<rect x="531" y="409" width="1" height="31" fill="#c0c0c0"/>
<rect x="535" y="409" width="1" height="35" fill="#c0c0c0"/>
<rect x="539" y="409" width="1" height="37" fill="#c0c0c0"/>
<rect x="543" y="409" width="1" height="38" fill="#c0c0c0"/>
<rect x="547" y="409" width="1" height="38" fill="#c0c0c0"/>
<rect x="551" y="409" width="1" height="39" fill="#c0c0c0"/>
<rect x="555" y="409" width="1" height="39" fill="#c0c0c0"/>
<rect x="559" y="409" width="1" height="38" fill="#c0c0c0"/>
<rect x="563" y="409" width="1" height="35" fill="#c0c0c0"/>
<rect x="567" y="409" width="1" height="33" fill="#c0c0c0"/>
<rect x="571" y="409" width="1" height="29" fill="#c0c0c0"/>
<rect x="575" y="409" width="1" height="26" fill="#c0c0c0"/>
<rect x="579" y="409" width="1" height="23" fill="#c0c0c0"/>
<rect x="583" y="409" width="1" height="21" fill="#c0c0c0"/>
<rect x="587" y="409" width="1" height="19" fill="#c0c0c0"/>
<rect x="591" y="409" width="1" height="19" fill="#c0c0c0"/>
<rect x="595" y="409" width="1" height="16" fill="#c0c0c0"/>
<rect x="599" y="409" width="1" height="14" fill="#c0c0c0"/>
<rect x="603" y="409" width="1" height="11" fill="#c0c0c0"/>
<rect x="607" y="409" width="1" height="10" fill="#c0c0c0"/>
<rect x="611" y="409" width="1" height="7" fill="#c0c0c0"/>
<rect x="615" y="409" width="1" height="9" fill="#c0c0c0"/>
<rect x="619" y="409" width="1" height="10" fill="#c0c0c0"/>
<rect x="623" y="409" width="1" height="10" fill="#c0c0c0"/>
<rect x="627" y="409" width="1" height="11" fill="#c0c0c0"/>
<rect x="631" y="409" width="1" height="13" fill="#c0c0c0"/>
<rect x="635" y="409" width="1" height="16" fill="#c0c0c0"/>
<rect x="639" y="409" width="1" height="16" fill="#c0c0c0"/>
<rect x="643" y="409" width="1" height="14" fill="#c0c0c0"/>
<rect x="647" y="409" width="1" height="12" fill="#c0c0c0"/>
<rect x="651" y="409" width="1" height="11" fill="#c0c0c0"/>
<rect x="655" y="409" width="1" height="10" fill="#c0c0c0"/>
<rect x="659" y="409" width="1" height="9" fill="#c0c0c0"/>
<rect x="663" y="409" width="1" height="9" fill="#c0c0c0"/>
<rect x="667" y="409" width="1" height="7" fill="#c0c0c0"/>
<rect x="671" y="409" width="1" height="10" fill="#c0c0c0"/>
<rect x="675" y="409" width="1" height="11" fill="#c0c0c0"/>
<rect x="679" y="409" width="1" height="12" fill="#c0c0c0"/>
<rect x="683" y="409" width="1" height="13" fill="#c0c0c0"/>
<polyline points="3.0,434.3 11.0,438.0 17.0,441.5 23.0,441.5 28.0,440.5 34.0,438.4 40.0,437.4 46.0,435.6 52.0,433.0 58.0,430.0 64.0,427.0 70.0,423.5 76.0,420.0 82.0,417.0 88.0,414.0 94.0,412.5 100.0,411.5 106.0,410.5 112.0,411.5 118.0,412.5 124.0,415.5 130.0,419.0 136.0,423.0 142.0,427.0 148.0,429.5 154.0,430.5 160.0,429.5 166.0,427.5 172.0,425.5 178.0,423.5 184.0,422.6 190.0,422.5 196.0,422.3 202.0,420.5 208.0,419.5 214.0,416.8 220.0,413.5 226.0,411.5 232.0,409.0 238.0,406.5 244.0,405.5 250.0,405.5 256.0,405.5 262.0,406.5 268.0,407.5 274.0,408.5 280.0,409.3 286.0,409.3 292.0,408.0 298.0,405.0 304.0,402.0 310.0,397.0 316.0,392.0 322.0,387.3 328.0,384.5 334.0,384.5 340.0,384.5 346.0,388.0 352.0,390.5 358.0,393.0 364.0,395.5 370.0,396.5 376.0,396.5 382.0,394.5 388.0,393.0 394.0,390.5 400.0,388.5 406.0,386.5 412.0,385.5 418.0,384.5 424.0,384.5 430.0,384.5 436.0,384.0 442.0,382.0 448.0,379.0 454.0,375.0 460.0,372.0 466.0,369.5 472.0,369.5 478.0,370.0 484.0,372.5 490.0,375.5 496.0,379.0 502.0,382.5 508.0,387.5 514.0,393.0 520.0,399.5 523.0,404.0 526.0,406.5 529.0,411.5 533.0,417.0 537.0,423.5 541.0,429.5 546.0,435.0 552.0,440.2 558.0,444.0 563.0,446.3 569.0,446.3 575.0,445.5 580.0,443.0 586.0,440.0 591.0,437.5 595.0,435.0 600.0,431.0 606.0,427.7 612.0,425.0 618.0,422.5 624.0,421.5 630.0,420.5 636.0,420.5 642.0,421.5 648.0,421.5 654.0,422.3 660.0,422.3 666.0,421.5 672.0,420.5 678.0,419.5 683.0,419.5" fill="none" stroke="#ff0000" stroke-width="1" stroke-dasharray="3,3"/>
</g>
<rect x="769" y="250" width="41" height="11" fill="#fff" shape-rendering="crispEdges"/>
<text x="774" y="27.1" font-size="10.1" fill="#fff" stroke="#fff" stroke-width="0.25" font-weight="normal" textLength="32.5" lengthAdjust="spacingAndGlyphs">2448.70</text>
<text x="774" y="60.1" font-size="10.1" fill="#fff" stroke="#fff" stroke-width="0.25" font-weight="normal" textLength="32.5" lengthAdjust="spacingAndGlyphs">2431.20</text>
<text x="774" y="93.1" font-size="10.1" fill="#fff" stroke="#fff" stroke-width="0.25" font-weight="normal" textLength="32.5" lengthAdjust="spacingAndGlyphs">2413.70</text>
<text x="774" y="126.1" font-size="10.1" fill="#fff" stroke="#fff" stroke-width="0.25" font-weight="normal" textLength="32.5" lengthAdjust="spacingAndGlyphs">2396.20</text>
<text x="774" y="159.1" font-size="10.1" fill="#fff" stroke="#fff" stroke-width="0.25" font-weight="normal" textLength="32.5" lengthAdjust="spacingAndGlyphs">2378.70</text>
<text x="774" y="192.1" font-size="10.1" fill="#fff" stroke="#fff" stroke-width="0.25" font-weight="normal" textLength="32.5" lengthAdjust="spacingAndGlyphs">2361.70</text>
<text x="774" y="225.1" font-size="10.1" fill="#fff" stroke="#fff" stroke-width="0.25" font-weight="normal" textLength="32.5" lengthAdjust="spacingAndGlyphs">2344.20</text>
<text x="774" y="258.1" font-size="10.1" fill="#000" stroke="#000" stroke-width="0.25" font-weight="normal" textLength="32.5" lengthAdjust="spacingAndGlyphs">2325.97</text>
<text x="774" y="291.1" font-size="10.1" fill="#fff" stroke="#fff" stroke-width="0.25" font-weight="normal" textLength="32.5" lengthAdjust="spacingAndGlyphs">2309.20</text>
<text x="774" y="324.1" font-size="10.1" fill="#fff" stroke="#fff" stroke-width="0.25" font-weight="normal" textLength="32.5" lengthAdjust="spacingAndGlyphs">2291.70</text>
<text x="774" y="357.1" font-size="10.1" fill="#fff" stroke="#fff" stroke-width="0.25" font-weight="normal" textLength="32.5" lengthAdjust="spacingAndGlyphs">2274.70</text>
<text x="772" y="369.1" font-size="10.1" fill="#fff" stroke="#fff" stroke-width="0.25" font-weight="normal" textLength="27.5" lengthAdjust="spacingAndGlyphs">23.197</text>
<text x="772" y="413.2" font-size="10.1" fill="#fff" stroke="#fff" stroke-width="0.25" font-weight="normal" textLength="17.6" lengthAdjust="spacingAndGlyphs">0.00</text>
<text x="772" y="451.5" font-size="10.1" fill="#fff" stroke="#fff" stroke-width="0.25" font-weight="normal" textLength="31" lengthAdjust="spacingAndGlyphs">-20.539</text>
<path d="M6 10h7l-3.5 4z" fill="#fff"/>
<text x="18" y="15.4" font-size="10.1" fill="#fff" stroke="#fff" stroke-width="0.25" font-weight="normal" textLength="29" lengthAdjust="spacingAndGlyphs">LLG,H4</text>
<text x="54.3" y="15.4" font-size="10.1" fill="#fff" stroke="#fff" stroke-width="0.25" font-weight="normal" textLength="32.2" lengthAdjust="spacingAndGlyphs">2330.62</text>
<text x="90.1" y="15.4" font-size="10.1" fill="#fff" stroke="#fff" stroke-width="0.25" font-weight="normal" textLength="32.5" lengthAdjust="spacingAndGlyphs">2330.75</text>
<text x="126.4" y="15.4" font-size="10.1" fill="#fff" stroke="#fff" stroke-width="0.25" font-weight="normal" textLength="32.2" lengthAdjust="spacingAndGlyphs">2325.44</text>
<text x="162.2" y="15.4" font-size="10.1" fill="#fff" stroke="#fff" stroke-width="0.25" font-weight="normal" textLength="32.4" lengthAdjust="spacingAndGlyphs">2325.97</text>
<text x="7.4" y="371.6" font-size="10.1" fill="#fff" stroke="#fff" stroke-width="0.25" font-weight="normal" textLength="66" lengthAdjust="spacingAndGlyphs">MACD(12,26,9)</text>
<text x="76.5" y="371.6" font-size="10.1" fill="#fff" stroke="#fff" stroke-width="0.25" font-weight="normal" textLength="24.7" lengthAdjust="spacingAndGlyphs">-6.100</text>
<text x="105" y="371.6" font-size="10.1" fill="#fff" stroke="#fff" stroke-width="0.25" font-weight="normal" textLength="25" lengthAdjust="spacingAndGlyphs">-4.875</text>
<filter id="nf" x="-5%" y="-5%" width="110%" height="110%"><feOffset dx="0" dy="0"/></filter><g id="logo" filter="url(#nf)">
<polygon points="723.7,423.0 711.1,435.3 723.7,435.3" fill="#b4b4b4"/>
<polygon points="723.7,423.0 736.3000000000001,435.3 723.7,435.3" fill="#6a6a6a"/>
<polygon points="723.7,425.8 733.2,435.3 723.7,435.3" fill="#e8e8e8"/>
<polygon points="723.7,425.8 714.2,435.3 723.7,435.3" fill="#8c8c8c"/>
<polygon points="723.7,447.6 711.1,435.3 723.7,435.3" fill="#e6cf1e"/>
<polygon points="723.7,447.6 736.3000000000001,435.3 723.7,435.3" fill="#7a5a1c"/>
<polygon points="723.7,444.8 733.2,435.3 723.7,435.3" fill="#c9a21f"/>
<polygon points="723.7,444.8 714.2,435.3 723.7,435.3" fill="#8a6a20"/>
<polygon points="723.7,429.3 729.7,435.3 723.7,441.3 717.7,435.3" fill="#000"/>
<polygon points="723.7,431.7 727.3000000000001,435.3 723.7,438.90000000000003 720.1,435.3" fill="none" stroke="#7fc31c" stroke-width="1.2"/>
<text x="742.3" y="433.8" font-size="10.4" fill="#fff" stroke="#fff" stroke-width="0.45" font-weight="bold" textLength="58" lengthAdjust="spacingAndGlyphs">SINO SOUND</text>
<g transform="translate(742.4,436.3)" stroke="#fff" stroke-width="1.15" stroke-linecap="square"><line x1="0.2" y1="0.8" x2="1.6" y2="1.4"/><line x1="0" y1="3" x2="1.4" y2="3.6"/><line x1="0.2" y1="7.2" x2="1.8" y2="5"/><line x1="2.6" y1="1" x2="8.6" y2="1"/><line x1="4.2" y1="0" x2="4.2" y2="2.4"/><line x1="7" y1="0" x2="7" y2="2.4"/><line x1="3.3" y1="2.6" x2="7.9" y2="2.6"/><line x1="3.3" y1="4.3" x2="7.9" y2="4.3"/><line x1="3.3" y1="2.6" x2="3.3" y2="4.3"/><line x1="7.9" y1="2.6" x2="7.9" y2="4.3"/><line x1="5.6" y1="2.6" x2="5.6" y2="5.6"/><line x1="2.6" y1="5.6" x2="8.6" y2="5.6"/><line x1="5.6" y1="5.6" x2="2.6" y2="7.6"/><line x1="5.6" y1="5.6" x2="8.6" y2="7.6"/></g>
<g transform="translate(758.8,436.3)" stroke="#fff" stroke-width="1.15" stroke-linecap="square"><line x1="0" y1="0.7" x2="4" y2="0.7"/><line x1="2" y1="0" x2="2" y2="2"/><line x1="0.3" y1="2" x2="4" y2="2"/><line x1="0.3" y1="2" x2="0.3" y2="3.6"/><line x1="0.3" y1="3.4" x2="4" y2="3.4"/><line x1="5" y1="0.4" x2="8" y2="0.4"/><line x1="5" y1="0.4" x2="5" y2="1.8"/><line x1="8" y1="0.4" x2="8" y2="1.8"/><line x1="4.8" y1="2.2" x2="8.4" y2="2.2"/><line x1="5" y1="3.6" x2="8.4" y2="2.2"/><line x1="5" y1="2.2" x2="8.4" y2="3.8"/><line x1="0.5" y1="4.4" x2="8" y2="4.4"/><line x1="2" y1="4.4" x2="2" y2="7.6"/><line x1="6.4" y1="4.4" x2="6.4" y2="7.6"/><line x1="2" y1="5.5" x2="6.4" y2="5.5"/><line x1="2" y1="6.6" x2="6.4" y2="6.6"/><line x1="0.3" y1="7.3" x2="8.4" y2="7.3"/></g>
<g transform="translate(775,436.3)" stroke="#fff" stroke-width="1.15" stroke-linecap="square"><line x1="2.4" y1="0" x2="0.6" y2="2"/><line x1="1.8" y1="1" x2="1.8" y2="4.6"/><line x1="1.8" y1="1" x2="8.2" y2="1"/><line x1="1.8" y1="2.2" x2="7.8" y2="2.2"/><line x1="1.8" y1="3.4" x2="7.8" y2="3.4"/><line x1="1.8" y1="4.6" x2="8.4" y2="4.6"/><line x1="5" y1="0" x2="5" y2="4.6"/><line x1="0" y1="5.8" x2="8.6" y2="5.8"/><line x1="4.3" y1="4.6" x2="4.3" y2="7.8"/><line x1="4.3" y1="5.8" x2="0.6" y2="7.6"/><line x1="4.3" y1="5.8" x2="8.2" y2="7.6"/></g>
<g transform="translate(791.5,436.3)" stroke="#fff" stroke-width="1.15" stroke-linecap="square"><line x1="0.4" y1="0.4" x2="8.2" y2="0.4"/><line x1="0.4" y1="7.3" x2="8.2" y2="7.3"/><line x1="0.4" y1="0.4" x2="0.4" y2="7.3"/><line x1="8.2" y1="0.4" x2="8.2" y2="7.3"/><line x1="1.6" y1="1.8" x2="7" y2="1.8"/><line x1="4.3" y1="0.8" x2="4.3" y2="6.2"/><line x1="2.2" y1="3" x2="6.4" y2="3"/><line x1="2.2" y1="4.2" x2="6.4" y2="4.2"/><line x1="2.2" y1="3" x2="2.2" y2="4.2"/><line x1="6.4" y1="3" x2="6.4" y2="4.2"/><line x1="1.6" y1="5.4" x2="7" y2="5.4"/><line x1="5.8" y1="4.6" x2="5.8" y2="6.6"/></g>
<rect x="748.9" y="426.3" width="1.6" height="1.3" fill="#6cc11e"/>
</g>
</g>
</svg></body></html>
